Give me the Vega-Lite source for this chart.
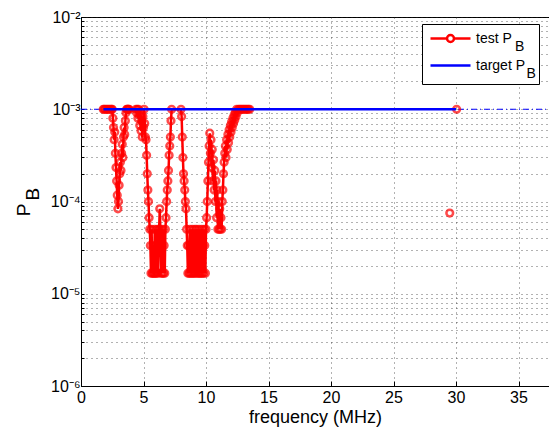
{
  "$schema": "https://vega.github.io/schema/vega-lite/v6.json",
  "width": 468,
  "height": 369,
  "autosize": "none",
  "padding": {"left": 81, "top": 17, "right": 0, "bottom": 45},
  "background": "white",
  "config": {
    "view": {"stroke": "black", "strokeWidth": 1},
    "font": "Liberation Sans",
    "axis": {
      "domainColor": "black",
      "tickColor": "black",
      "labelColor": "black",
      "titleColor": "black",
      "titleFontWeight": "normal",
      "labelFont": "Liberation Sans",
      "titleFont": "Liberation Sans",
      "grid": true,
      "gridColor": "#222222",
      "gridOpacity": 0.7,
      "gridDash": [1, 4],
      "gridWidth": 1
    }
  },
  "datasets": {
    "test": [
      {"f": 1.78, "p": 0.001, "series": "test", "g": "m"},
      {"f": 1.85, "p": 0.001, "series": "test", "g": "m"},
      {"f": 1.95, "p": 0.001, "series": "test", "g": "m"},
      {"f": 2.05, "p": 0.001, "series": "test", "g": "m"},
      {"f": 2.15, "p": 0.001, "series": "test", "g": "m"},
      {"f": 2.25, "p": 0.001, "series": "test", "g": "m"},
      {"f": 2.35, "p": 0.001, "series": "test", "g": "m"},
      {"f": 2.45, "p": 0.001, "series": "test", "g": "m"},
      {"f": 2.50, "p": 0.001, "series": "test", "g": "m"},
      {"f": 2.55, "p": 0.0008, "series": "test", "g": "m"},
      {"f": 2.60, "p": 0.000633, "series": "test", "g": "m"},
      {"f": 2.65, "p": 0.000467, "series": "test", "g": "m"},
      {"f": 2.70, "p": 0.000567, "series": "test", "g": "m"},
      {"f": 2.75, "p": 0.000333, "series": "test", "g": "m"},
      {"f": 2.80, "p": 0.000233, "series": "test", "g": "m"},
      {"f": 2.85, "p": 0.000167, "series": "test", "g": "m"},
      {"f": 2.90, "p": 0.000117, "series": "test", "g": "m"},
      {"f": 2.95, "p": 0.0000833, "series": "test", "g": "m"},
      {"f": 3.00, "p": 0.0001, "series": "test", "g": "m"},
      {"f": 3.05, "p": 0.00015, "series": "test", "g": "m"},
      {"f": 3.10, "p": 0.0002, "series": "test", "g": "m"},
      {"f": 3.15, "p": 0.000267, "series": "test", "g": "m"},
      {"f": 3.20, "p": 0.000217, "series": "test", "g": "m"},
      {"f": 3.25, "p": 0.000333, "series": "test", "g": "m"},
      {"f": 3.30, "p": 0.000417, "series": "test", "g": "m"},
      {"f": 3.35, "p": 0.0003, "series": "test", "g": "m"},
      {"f": 3.40, "p": 0.0005, "series": "test", "g": "m"},
      {"f": 3.45, "p": 0.000633, "series": "test", "g": "m"},
      {"f": 3.50, "p": 0.000533, "series": "test", "g": "m"},
      {"f": 3.55, "p": 0.00075, "series": "test", "g": "m"},
      {"f": 3.60, "p": 0.000917, "series": "test", "g": "m"},
      {"f": 3.65, "p": 0.001, "series": "test", "g": "m"},
      {"f": 3.70, "p": 0.001, "series": "test", "g": "m"},
      {"f": 3.75, "p": 0.001, "series": "test", "g": "m"},
      {"f": 3.80, "p": 0.001, "series": "test", "g": "m"},
      {"f": 3.85, "p": 0.001, "series": "test", "g": "m"},
      {"f": 4.40, "p": 0.001, "series": "test", "g": "m"},
      {"f": 4.45, "p": 0.000917, "series": "test", "g": "m"},
      {"f": 4.50, "p": 0.001, "series": "test", "g": "m"},
      {"f": 4.55, "p": 0.0008, "series": "test", "g": "m"},
      {"f": 4.60, "p": 0.001, "series": "test", "g": "m"},
      {"f": 4.65, "p": 0.000867, "series": "test", "g": "m"},
      {"f": 4.70, "p": 0.000667, "series": "test", "g": "m"},
      {"f": 4.75, "p": 0.000917, "series": "test", "g": "m"},
      {"f": 4.80, "p": 0.000583, "series": "test", "g": "m"},
      {"f": 4.85, "p": 0.00075, "series": "test", "g": "m"},
      {"f": 4.90, "p": 0.0005, "series": "test", "g": "m"},
      {"f": 4.95, "p": 0.000833, "series": "test", "g": "m"},
      {"f": 5.00, "p": 0.000633, "series": "test", "g": "m"},
      {"f": 5.05, "p": 0.001, "series": "test", "g": "m"},
      {"f": 5.10, "p": 0.0007, "series": "test", "g": "m"},
      {"f": 5.15, "p": 0.0005, "series": "test", "g": "m"},
      {"f": 5.20, "p": 0.000467, "series": "test", "g": "m"},
      {"f": 5.25, "p": 0.000317, "series": "test", "g": "m"},
      {"f": 5.30, "p": 0.0002, "series": "test", "g": "m"},
      {"f": 5.35, "p": 0.000133, "series": "test", "g": "m"},
      {"f": 5.40, "p": 0.0001, "series": "test", "g": "m"},
      {"f": 5.45, "p": 0.0000667, "series": "test", "g": "m"},
      {"f": 5.50, "p": 0.00005, "series": "test", "g": "m"},
      {"f": 5.55, "p": 0.0000333, "series": "test", "g": "m"},
      {"f": 5.60, "p": 0.0000167, "series": "test", "g": "m"},
      {"f": 5.65, "p": 0.00005, "series": "test", "g": "m"},
      {"f": 5.70, "p": 0.0000167, "series": "test", "g": "m"},
      {"f": 5.75, "p": 0.0000333, "series": "test", "g": "m"},
      {"f": 5.80, "p": 0.0000167, "series": "test", "g": "m"},
      {"f": 5.85, "p": 0.0000167, "series": "test", "g": "m"},
      {"f": 5.90, "p": 0.00005, "series": "test", "g": "m"},
      {"f": 5.95, "p": 0.0000167, "series": "test", "g": "m"},
      {"f": 6.00, "p": 0.0000333, "series": "test", "g": "m"},
      {"f": 6.05, "p": 0.0000167, "series": "test", "g": "m"},
      {"f": 6.10, "p": 0.00005, "series": "test", "g": "m"},
      {"f": 6.15, "p": 0.0000167, "series": "test", "g": "m"},
      {"f": 6.20, "p": 0.0000333, "series": "test", "g": "m"},
      {"f": 6.25, "p": 0.00005, "series": "test", "g": "m"},
      {"f": 6.30, "p": 0.0000833, "series": "test", "g": "m"},
      {"f": 6.35, "p": 0.00005, "series": "test", "g": "m"},
      {"f": 6.40, "p": 0.0000167, "series": "test", "g": "m"},
      {"f": 6.45, "p": 0.0000333, "series": "test", "g": "m"},
      {"f": 6.50, "p": 0.0000167, "series": "test", "g": "m"},
      {"f": 6.55, "p": 0.00005, "series": "test", "g": "m"},
      {"f": 6.60, "p": 0.0000167, "series": "test", "g": "m"},
      {"f": 6.65, "p": 0.0000333, "series": "test", "g": "m"},
      {"f": 6.70, "p": 0.0000167, "series": "test", "g": "m"},
      {"f": 6.75, "p": 0.00005, "series": "test", "g": "m"},
      {"f": 6.80, "p": 0.0000667, "series": "test", "g": "m"},
      {"f": 6.85, "p": 0.0001, "series": "test", "g": "m"},
      {"f": 6.90, "p": 0.000133, "series": "test", "g": "m"},
      {"f": 6.95, "p": 0.000167, "series": "test", "g": "m"},
      {"f": 7.00, "p": 0.000217, "series": "test", "g": "m"},
      {"f": 7.05, "p": 0.000317, "series": "test", "g": "m"},
      {"f": 7.10, "p": 0.0004, "series": "test", "g": "m"},
      {"f": 7.15, "p": 0.0005, "series": "test", "g": "m"},
      {"f": 7.20, "p": 0.00075, "series": "test", "g": "m"},
      {"f": 7.25, "p": 0.001, "series": "test", "g": "m"},
      {"f": 8.00, "p": 0.001, "series": "test", "g": "m"},
      {"f": 8.05, "p": 0.000833, "series": "test", "g": "m"},
      {"f": 8.10, "p": 0.0005, "series": "test", "g": "m"},
      {"f": 8.15, "p": 0.0003, "series": "test", "g": "m"},
      {"f": 8.20, "p": 0.0002, "series": "test", "g": "m"},
      {"f": 8.25, "p": 0.000167, "series": "test", "g": "m"},
      {"f": 8.30, "p": 0.000133, "series": "test", "g": "m"},
      {"f": 8.35, "p": 0.0001, "series": "test", "g": "m"},
      {"f": 8.40, "p": 0.0000833, "series": "test", "g": "m"},
      {"f": 8.45, "p": 0.00005, "series": "test", "g": "m"},
      {"f": 8.50, "p": 0.0000333, "series": "test", "g": "m"},
      {"f": 8.55, "p": 0.0000167, "series": "test", "g": "m"},
      {"f": 8.60, "p": 0.0000333, "series": "test", "g": "m"},
      {"f": 8.65, "p": 0.0000167, "series": "test", "g": "m"},
      {"f": 8.70, "p": 0.00005, "series": "test", "g": "m"},
      {"f": 8.75, "p": 0.0000167, "series": "test", "g": "m"},
      {"f": 8.80, "p": 0.0000333, "series": "test", "g": "m"},
      {"f": 8.85, "p": 0.0000167, "series": "test", "g": "m"},
      {"f": 8.90, "p": 0.00005, "series": "test", "g": "m"},
      {"f": 8.95, "p": 0.0000167, "series": "test", "g": "m"},
      {"f": 9.00, "p": 0.0000333, "series": "test", "g": "m"},
      {"f": 9.05, "p": 0.0000167, "series": "test", "g": "m"},
      {"f": 9.10, "p": 0.00005, "series": "test", "g": "m"},
      {"f": 9.15, "p": 0.0000167, "series": "test", "g": "m"},
      {"f": 9.20, "p": 0.0000333, "series": "test", "g": "m"},
      {"f": 9.25, "p": 0.00005, "series": "test", "g": "m"},
      {"f": 9.30, "p": 0.0000167, "series": "test", "g": "m"},
      {"f": 9.35, "p": 0.0000333, "series": "test", "g": "m"},
      {"f": 9.40, "p": 0.0000167, "series": "test", "g": "m"},
      {"f": 9.45, "p": 0.00005, "series": "test", "g": "m"},
      {"f": 9.50, "p": 0.0000167, "series": "test", "g": "m"},
      {"f": 9.55, "p": 0.0000333, "series": "test", "g": "m"},
      {"f": 9.60, "p": 0.0000167, "series": "test", "g": "m"},
      {"f": 9.65, "p": 0.00005, "series": "test", "g": "m"},
      {"f": 9.70, "p": 0.0000167, "series": "test", "g": "m"},
      {"f": 9.75, "p": 0.0000333, "series": "test", "g": "m"},
      {"f": 9.80, "p": 0.0000167, "series": "test", "g": "m"},
      {"f": 9.85, "p": 0.00005, "series": "test", "g": "m"},
      {"f": 9.90, "p": 0.0000333, "series": "test", "g": "m"},
      {"f": 9.95, "p": 0.0000167, "series": "test", "g": "m"},
      {"f": 10.00, "p": 0.00005, "series": "test", "g": "m"},
      {"f": 10.05, "p": 0.0000667, "series": "test", "g": "m"},
      {"f": 10.10, "p": 0.0001, "series": "test", "g": "m"},
      {"f": 10.15, "p": 0.000167, "series": "test", "g": "m"},
      {"f": 10.20, "p": 0.000267, "series": "test", "g": "m"},
      {"f": 10.25, "p": 0.0004, "series": "test", "g": "m"},
      {"f": 10.30, "p": 0.00055, "series": "test", "g": "m"},
      {"f": 10.35, "p": 0.000333, "series": "test", "g": "m"},
      {"f": 10.40, "p": 0.000467, "series": "test", "g": "m"},
      {"f": 10.45, "p": 0.000233, "series": "test", "g": "m"},
      {"f": 10.50, "p": 0.000367, "series": "test", "g": "m"},
      {"f": 10.55, "p": 0.000167, "series": "test", "g": "m"},
      {"f": 10.60, "p": 0.000283, "series": "test", "g": "m"},
      {"f": 10.65, "p": 0.000133, "series": "test", "g": "m"},
      {"f": 10.70, "p": 0.000217, "series": "test", "g": "m"},
      {"f": 10.75, "p": 0.0001, "series": "test", "g": "m"},
      {"f": 10.80, "p": 0.000167, "series": "test", "g": "m"},
      {"f": 10.85, "p": 0.0000667, "series": "test", "g": "m"},
      {"f": 10.90, "p": 0.000133, "series": "test", "g": "m"},
      {"f": 10.95, "p": 0.00005, "series": "test", "g": "m"},
      {"f": 11.00, "p": 0.0001, "series": "test", "g": "m"},
      {"f": 11.05, "p": 0.00005, "series": "test", "g": "m"},
      {"f": 11.10, "p": 0.0000833, "series": "test", "g": "m"},
      {"f": 11.15, "p": 0.00005, "series": "test", "g": "m"},
      {"f": 11.20, "p": 0.0000667, "series": "test", "g": "m"},
      {"f": 11.25, "p": 0.00005, "series": "test", "g": "m"},
      {"f": 11.30, "p": 0.0001, "series": "test", "g": "m"},
      {"f": 11.35, "p": 0.000133, "series": "test", "g": "m"},
      {"f": 11.40, "p": 0.0002, "series": "test", "g": "m"},
      {"f": 11.45, "p": 0.000267, "series": "test", "g": "m"},
      {"f": 11.50, "p": 0.000333, "series": "test", "g": "m"},
      {"f": 11.55, "p": 0.0004, "series": "test", "g": "m"},
      {"f": 11.60, "p": 0.0003, "series": "test", "g": "m"},
      {"f": 11.65, "p": 0.000467, "series": "test", "g": "m"},
      {"f": 11.70, "p": 0.000367, "series": "test", "g": "m"},
      {"f": 11.75, "p": 0.000533, "series": "test", "g": "m"},
      {"f": 11.80, "p": 0.000433, "series": "test", "g": "m"},
      {"f": 11.85, "p": 0.0006, "series": "test", "g": "m"},
      {"f": 11.90, "p": 0.0005, "series": "test", "g": "m"},
      {"f": 11.95, "p": 0.000667, "series": "test", "g": "m"},
      {"f": 12.00, "p": 0.000567, "series": "test", "g": "m"},
      {"f": 12.05, "p": 0.000733, "series": "test", "g": "m"},
      {"f": 12.10, "p": 0.000633, "series": "test", "g": "m"},
      {"f": 12.15, "p": 0.0008, "series": "test", "g": "m"},
      {"f": 12.20, "p": 0.0007, "series": "test", "g": "m"},
      {"f": 12.25, "p": 0.000867, "series": "test", "g": "m"},
      {"f": 12.30, "p": 0.000767, "series": "test", "g": "m"},
      {"f": 12.35, "p": 0.000933, "series": "test", "g": "m"},
      {"f": 12.40, "p": 0.000833, "series": "test", "g": "m"},
      {"f": 12.45, "p": 0.001, "series": "test", "g": "m"},
      {"f": 12.50, "p": 0.000917, "series": "test", "g": "m"},
      {"f": 12.60, "p": 0.001, "series": "test", "g": "m"},
      {"f": 12.70, "p": 0.001, "series": "test", "g": "m"},
      {"f": 12.80, "p": 0.001, "series": "test", "g": "m"},
      {"f": 12.90, "p": 0.001, "series": "test", "g": "m"},
      {"f": 13.00, "p": 0.001, "series": "test", "g": "m"},
      {"f": 13.10, "p": 0.001, "series": "test", "g": "m"},
      {"f": 13.20, "p": 0.001, "series": "test", "g": "m"},
      {"f": 13.30, "p": 0.001, "series": "test", "g": "m"},
      {"f": 13.40, "p": 0.001, "series": "test", "g": "m"},
      {"f": 13.50, "p": 0.001, "series": "test", "g": "m"},
      {"f": 29.50, "p": 0.000075, "series": "test", "g": "a"},
      {"f": 30.05, "p": 0.001, "series": "test", "g": "b"}
    ],
    "target": [
      {"f": 1.8, "p": 0.001, "series": "target"},
      {"f": 30.0, "p": 0.001, "series": "target"}
    ],
    "ref": [
      {"f": 0, "p": 0.001},
      {"f": 40, "p": 0.001}
    ]
  },
  "encoding": {
    "x": {
      "field": "f", "type": "quantitative",
      "scale": {"domain": [0, 37.44], "nice": false, "zero": false},
      "axis": {
        "values": [0, 5, 10, 15, 20, 25, 30, 35],
        "title": "frequency (MHz)",
        "titleFontSize": 18,
        "titlePadding": 3,
        "labelFontSize": 16,
        "labelPadding": 8,
        "tickSize": -5,
        "labelFlush": false
      }
    },
    "y": {
      "field": "p", "type": "quantitative",
      "scale": {"type": "log", "domain": [0.000001, 0.01], "nice": false},
      "axis": {
        "values": [0.000001, 0.000002, 0.000003, 0.000004, 0.000005, 0.000006, 0.000007, 0.000008, 0.000009,
                   0.00001, 0.00002, 0.00003, 0.00004, 0.00005, 0.00006, 0.00007, 0.00008, 0.00009,
                   0.0001, 0.0002, 0.0003, 0.0004, 0.0005, 0.0006, 0.0007, 0.0008, 0.0009,
                   0.001, 0.002, 0.003, 0.004, 0.005, 0.006, 0.007, 0.008, 0.009, 0.01],
        "labelExpr": "datum.value == 0.01 ? '10⁻²' : datum.value == 0.001 ? '10⁻³' : datum.value == 0.0001 ? '10⁻⁴' : datum.value == 0.00001 ? '10⁻⁵' : datum.value == 0.000001 ? '10⁻⁶' : ''",
        "labelFontSize": 16,
        "labelPadding": 4,
        "labelFlush": false,
        "labelOverlap": false,
        "tickSize": -3,
        "title": ["P\u00a0\u00a0\u00a0\u200b", "\u200b\u00a0\u00a0\u00a0B"],
        "titleFontSize": 19,
        "titleLineHeight": 9,
        "titlePadding": 8
      }
    }
  },
  "layer": [
    {
      "data": {"name": "ref"},
      "mark": {"type": "line", "color": "#0000ff", "strokeWidth": 1, "strokeDash": [6, 3, 1, 3], "clip": true},
      "encoding": {}
    },
    {
      "data": {"name": "test"},
      "transform": [{"filter": "datum.g == 'm'"}],
      "mark": {"type": "line", "strokeWidth": 2.5},
      "encoding": {
        "color": {
          "field": "series", "type": "nominal",
          "scale": {"domain": ["test", "target"], "range": ["#ff0000", "#0000ff"]},
          "legend": {
            "title": null,
            "orient": "none",
            "legendX": 341,
            "legendY": 7,
            "direction": "vertical",
            "fillColor": "white",
            "strokeColor": "black",
            "padding": 3,
            "symbolSize": 400,
            "symbolStrokeWidth": 2.5,
            "symbolOffset": 14,
            "labelOffset": 14,
            "rowPadding": 0,
            "labelFont": "Liberation Sans",
            "labelFontSize": 14,
            "labelColor": "black",
            "labelLimit": 200,
            "labelExpr": "datum.value == 'test' ? ['test P', '\u200b\u00a0\u00a0\u00a0\u00a0\u00a0\u00a0\u00a0\u00a0\u00a0\u00a0B'] : ['target P', '\u200b\u00a0\u00a0\u00a0\u00a0\u00a0\u00a0\u00a0\u00a0\u00a0\u00a0\u00a0\u00a0\u00a0B']",
            "encode": {
              "symbols": {"update": {"shape": {"signal": "datum.value == 'test' ? 'M-2,0H-0.35M0.35,0H2M0.35,0A0.35,0.35,0,1,1,-0.35,0A0.35,0.35,0,1,1,0.35,0' : 'M-2,0H2'"}}},
              "labels": {"update": {"lineHeight": {"value": 8}}}
            }
          }
        }
      }
    },
    {
      "data": {"name": "test"},
      "mark": {"type": "point", "shape": "circle", "filled": false, "color": "#ff0000", "size": 45, "strokeWidth": 2.5},
      "encoding": {}
    },
    {
      "data": {"name": "target"},
      "mark": {"type": "line", "strokeWidth": 2.5},
      "encoding": {
        "color": {"field": "series", "type": "nominal"}
      }
    }
  ]
}
